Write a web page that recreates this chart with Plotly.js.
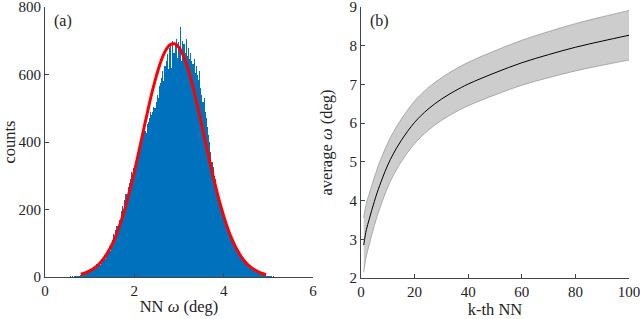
<!DOCTYPE html>
<html>
<head>
<meta charset="utf-8">
<script src="https://cdn.plot.ly/plotly-3.0.1.min.js"></script>
<style>html,body{margin:0;padding:0;background:#fff;}#chart{width:640px;height:319px;}</style>
</head>
<body>
<div id="chart"></div>
<script>
// Panel (a): histogram of NN angular distance (bins of 0.025 deg starting at 0.4 deg)
const histStart = 0.4;
const histBinWidth = 0.025;
const histCounts = [
  0,1,0,1, 1,0,2,1, 2,1,3,2, 3,4,2,5, 6,9,7,11, 13,10,16,15,
  19,24,17,27, 30,25,38,33, 44,36,52,47, 58,66,54,75, 80,92,78,101,
  110,128,115,140, 150,138,170,162, 195,210,190,228, 245,240,268,280,
  290,310,300,322, 330,340,352,368, 378,385,400,415, 420,432,428,452,
  458,470,488,480, 490,505,500,520, 540,530,565,575, 590,610,580,625,
  640,660,615,680, 690,620,700,665, 685,705,650,695, 680,740,640,700,
  690,665,705,655, 680,645,665,640, 630,645,605,625, 600,585,610,560,
  540,520,530,490, 470,445,420,400, 370,340,325,300, 290,270,255,240,
  232,215,205,195, 180,170,160,148, 138,130,120,112, 104,96,90,84,
  78,70,66,60, 55,50,46,42, 39,35,32,28, 26,22,21,18, 16,14,12,11,
  10,8,7,6, 5,5,4,3, 3,2,2,1, 2,1,1,1, 1,0,1,1, 0,1,0,0, 1,0,0,1
];
// Fitted curve (red)
const fitX = [0.8,0.9,1.0,1.1,1.2,1.3,1.4,1.5,1.6,1.7,1.8,1.9,2.0,2.1,2.2,2.3,2.4,2.5,2.6,2.7,2.8,2.9,
              3.0,3.1,3.2,3.3,3.4,3.5,3.6,3.7,3.8,3.9,4.0,4.1,4.2,4.3,4.4,4.5,4.6,4.7,4.8,4.9,4.95];
const fitY = [8,12,18,26,37,52,72,96,127,164,208,258,312,371,432,492,549,599,641,671,688,691,
              680,655,617,570,515,456,395,336,279,227,181,141,108,81,59,42,30,21,14,9,7];

// Panel (b): average angular distance to the k-th NN with spread band
const kVals = [1,2,3,4,5,6,8,10,12,15,20,25,30,35,40,50,60,70,80,90,100];
const meanVals = [2.85,3.25,3.5,3.75,3.98,4.2,4.58,4.92,5.2,5.55,6.02,6.36,6.62,6.83,7.01,7.3,7.56,7.77,7.96,8.12,8.27];
const upperVals = [3.55,3.93,4.16,4.39,4.6,4.81,5.17,5.49,5.76,6.1,6.57,6.91,7.17,7.385,7.57,7.87,8.14,8.365,8.57,8.745,8.91];
const lowerVals = [2.15,2.57,2.84,3.11,3.36,3.59,3.99,4.35,4.64,5.0,5.47,5.81,6.07,6.275,6.45,6.73,6.98,7.175,7.35,7.495,7.63];

const ticksA_x = [0,2,4,6];
const ticksA_y = [0,200,400,600,800];
const ticksB_x = [0,20,40,60,80,100];
const ticksB_y = [2,3,4,5,6,7,8,9];

const FONT = "'Liberation Serif', 'Times New Roman', serif";
const axisCol = '#444444';
const txtCol = '#222222';

const traces = [
  {type:'bar', x0: histStart + histBinWidth/2, dx: histBinWidth, y: histCounts,
   marker:{color:'#0072BD', line:{width:0}}, xaxis:'x', yaxis:'y', hoverinfo:'skip'},
  {type:'scatter', mode:'lines', x: fitX, y: fitY, line:{color:'#FF0000', width:3, shape:'spline'},
   xaxis:'x', yaxis:'y'},
  {type:'scatter', mode:'lines', x: kVals, y: lowerVals, line:{color:'#9a9a9a', width:0.8, shape:'spline'},
   xaxis:'x2', yaxis:'y2'},
  {type:'scatter', mode:'lines', x: kVals, y: upperVals, fill:'tonexty', fillcolor:'#cdcdcd',
   line:{color:'#9a9a9a', width:0.8, shape:'spline'}, xaxis:'x2', yaxis:'y2'},
  {type:'scatter', mode:'lines', x: kVals, y: meanVals, line:{color:'#000000', width:1, shape:'spline'},
   xaxis:'x2', yaxis:'y2'}
];

function ax(extra){
  return Object.assign({
    showgrid:false, zeroline:false, showline:true, linecolor:axisCol, linewidth:1,
    ticks:'inside', ticklen:4, tickcolor:axisCol, tickwidth:1, ticklabeloverflow:'allow',
    tickfont:{family:FONT, size:15, color:txtCol}, automargin:false
  }, extra);
}

const layout = {
  width:640, height:319, showlegend:false, bargap:0,
  paper_bgcolor:'#fff', plot_bgcolor:'#fff',
  margin:{l:0,r:0,t:0,b:0},
  xaxis: ax({domain:[45/640, 313/640], range:[0,6], tickvals:ticksA_x, anchor:'y',
    title:{text:'NN <i>ω</i> (deg)', font:{family:FONT, size:16.5, color:txtCol}, standoff:2}}),
  yaxis: ax({domain:[42/319, 312/319], range:[0,800], tickvals:ticksA_y, anchor:'x',
    title:{text:'counts', font:{family:FONT, size:16.5, color:txtCol}, standoff:6}}),
  xaxis2: ax({domain:[361/640, 629/640], range:[0,100], tickvals:ticksB_x, anchor:'y2',
    title:{text:'k-th NN', font:{family:FONT, size:16.5, color:txtCol}, standoff:2}}),
  yaxis2: ax({domain:[41/319, 312/319], range:[2,9], tickvals:ticksB_y, anchor:'x2',
    title:{text:'average <i>ω</i> (deg)', font:{family:FONT, size:16.5, color:txtCol}, standoff:12}}),
  annotations:[
    {text:'(a)', xref:'x domain', yref:'y domain', x:0.025, y:0.95, xanchor:'left', yanchor:'middle',
     showarrow:false, font:{family:FONT, size:16, color:txtCol}},
    {text:'(b)', xref:'x2 domain', yref:'y2 domain', x:0.025, y:0.95, xanchor:'left', yanchor:'middle',
     showarrow:false, font:{family:FONT, size:16, color:txtCol}}
  ]
};

Plotly.newPlot('chart', traces, layout, {staticPlot:true, displayModeBar:false});
</script>
</body>
</html>
